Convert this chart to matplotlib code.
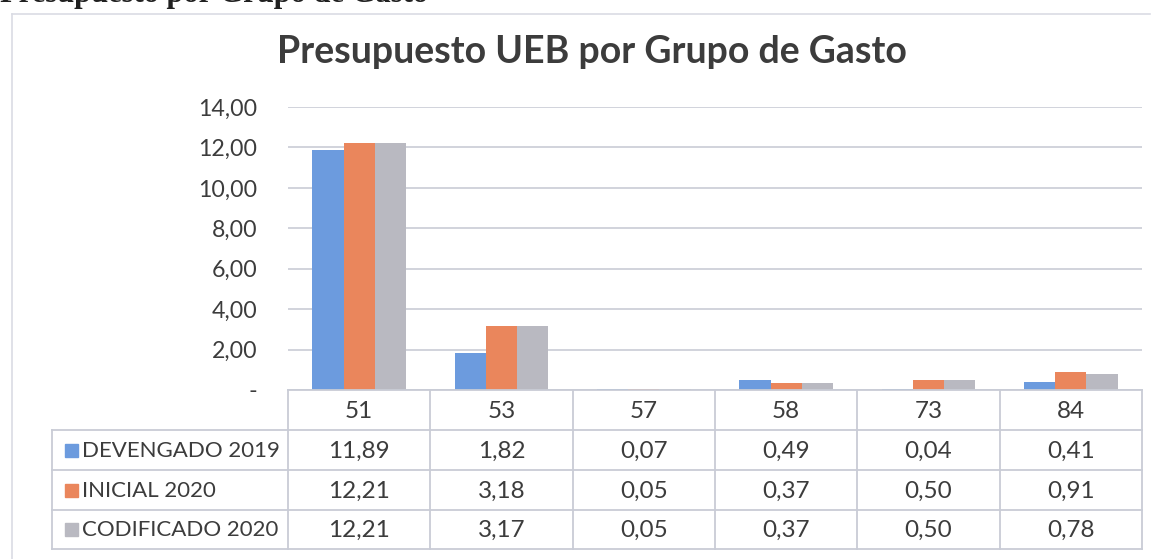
import matplotlib.pyplot as plt
import numpy as np
from matplotlib.patches import Rectangle

plt.rcParams['font.family'] = ['Lato', 'DejaVu Sans']

categories = ["51", "53", "57", "58", "73", "84"]
series_names = ["DEVENGADO 2019", "INICIAL 2020", "CODIFICADO 2020"]
devengado_2019 = [11.89, 1.82, 0.07, 0.49, 0.04, 0.41]
inicial_2020 = [12.21, 3.18, 0.05, 0.37, 0.50, 0.91]
codificado_2020 = [12.21, 3.17, 0.05, 0.37, 0.50, 0.78]
y_ticks = [0, 2, 4, 6, 8, 10, 12, 14]

colors = ["#6C9BDE", "#EA865C", "#B9B9C1"]
grid_col = "#C9CCD6"
text_col = "#3C3C3C"

W, H = 1162, 559
fig = plt.figure(figsize=(W / 100, H / 100), dpi=100)
fig.patch.set_facecolor("white")


def fx(px):
    return px / W


def fy(py):
    return 1 - py / H


def fmt(v):
    return f"{v:.2f}".replace(".", ",")


# chart plotting area
left, right, top, bottom = 288, 1142, 107, 390
ax = fig.add_axes([fx(left), fy(bottom), fx(right - left), (bottom - top) / H])
x = np.arange(len(categories))
bw = 0.22
all_series = [devengado_2019, inicial_2020, codificado_2020]
for i, vals in enumerate(all_series):
    ax.bar(x + (i - 1) * bw, vals, width=bw, color=colors[i], zorder=3)
ax.set_xlim(-0.5, len(categories) - 0.5)
ax.set_ylim(0, 14)
ax.set_yticks(y_ticks)
ax.set_yticklabels(["-" if t == 0 else fmt(t) for t in y_ticks],
                   fontsize=16.7, color=text_col)
ax.tick_params(axis="y", length=0, pad=22)
ax.set_xticks([])
ax.grid(axis="y", color=grid_col, linewidth=1.2, zorder=0)
for s in ["left", "right", "bottom", "top"]:
    ax.spines[s].set_visible(False)

# data table below the plot
tab = fig.add_axes([0, 0, 1, 1], zorder=5)
tab.set_xlim(0, W)
tab.set_ylim(H, 0)
tab.axis("off")
tab.patch.set_alpha(0)

col_w = (right - left) / len(categories)
row_y = [390, 430, 470, 510, 549]
tab_left = 52
line_kw = dict(color=grid_col, linewidth=1.3)

# horizontal lines
tab.plot([left, right], [row_y[0], row_y[0]], **line_kw)
for yy in row_y[1:]:
    tab.plot([tab_left, right], [yy, yy], **line_kw)
# vertical lines
tab.plot([tab_left, tab_left], [row_y[1], row_y[-1]], **line_kw)
for j in range(len(categories) + 1):
    xx = left + j * col_w
    tab.plot([xx, xx], [row_y[0], row_y[-1]], **line_kw)

for j, cat in enumerate(categories):
    cx = left + (j + 0.5) * col_w
    tab.text(cx, (row_y[0] + row_y[1]) / 2 + 1, cat, ha="center", va="center",
             fontsize=17.5, color=text_col)
    for i, vals in enumerate(all_series):
        cy = (row_y[i + 1] + row_y[i + 2]) / 2 + 1
        tab.text(cx, cy, fmt(vals[j]), ha="center", va="center",
                 fontsize=17.5, color=text_col)

for i, name in enumerate(series_names):
    cy = (row_y[i + 1] + row_y[i + 2]) / 2
    tab.add_patch(Rectangle((65, cy - 6.5), 13, 13, color=colors[i]))
    tab.text(82, cy + 1, name, ha="left", va="center", fontsize=16, color=text_col)

# outer chart frame (faint)
tab.plot([12, 12], [14, 559], color="#DADCE4", linewidth=1.2)
tab.plot([12, 1150], [14, 14], color="#DADCE4", linewidth=1.2)

# cropped heading of the page above
tab.text(0, 2, "Presupuesto por Grupo de Gasto", ha="left", va="baseline",
         fontsize=22, fontweight="bold", family=["Liberation Serif"], color="#202020")

fig.text(fx(592), fy(52), "Presupuesto UEB por Grupo de Gasto", ha="center",
         va="center", fontsize=27, fontweight="bold", color=text_col)

fig.savefig("out.png", dpi=100, facecolor="white")
